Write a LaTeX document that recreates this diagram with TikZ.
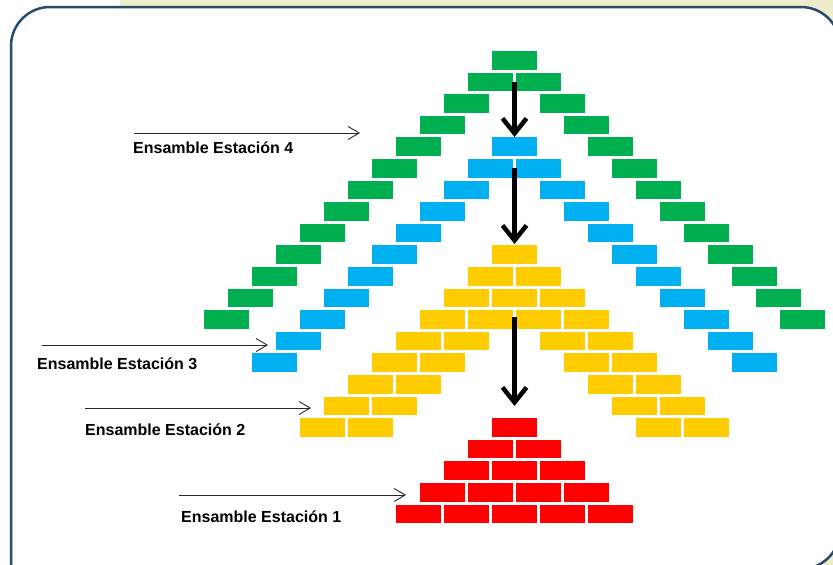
\documentclass[tikz,border=0pt]{standalone}
\usepackage{fontspec}
\setmainfont{Liberation Sans}
\usetikzlibrary{arrows.meta}
\definecolor{brickgreen}{HTML}{00B050}
\definecolor{brickblue}{HTML}{00B0F0}
\definecolor{brickyellow}{HTML}{FFCC00}
\definecolor{brickred}{HTML}{FF0000}
\definecolor{framecol}{HTML}{274B6C}
\definecolor{paper}{HTML}{EEEDCB}
\begin{document}
\begin{tikzpicture}[
        x = 1pt, y = -1pt,
        feed/.style = {line width = 0.9pt, draw = black!85,
            -{Straight Barb[length = 11pt, width = 13pt]}},
        drop/.style = {line width = 4.5pt, draw = black,
            -{Straight Barb[length = 15pt, width = 24pt]}},
        tag/.style = {anchor = base west, inner sep = 0pt,
            font = \fontsize{16}{19}\selectfont\bfseries}
    ]
    \clip (0,0) rectangle (833,565);
    % page and frame
    \fill[paper] (120,0) rectangle (833,565);
    \filldraw[
        fill = white,
        draw = framecol,
        line width = 2.5pt,
        rounded corners = 39pt
    ]
    (11,640) -- (11,7) -- (840,7) -- (840,569) -- (-50,569);

    % station 4 (green)
    \foreach \r in {0,...,12} {
        \fill[brickgreen] ({492-24*\r},{51+21.6*\r}) rectangle ++(45,18.6);
        \fill[brickgreen] ({492+24*\r},{51+21.6*\r}) rectangle ++(45,18.6);
    }
    % station 3 (blue)
    \foreach \r in {0,...,10} {
        \fill[brickblue] ({492-24*\r},{137.4+21.6*\r}) rectangle ++(45,18.6);
        \fill[brickblue] ({492+24*\r},{137.4+21.6*\r}) rectangle ++(45,18.6);
    }
    % station 2 (yellow)
    \fill[brickyellow] (492,245.4) rectangle ++(45,18.6);
    \foreach \r in {1,...,8} {
        \fill[brickyellow] ({492-24*\r},{245.4+21.6*\r}) rectangle ++(45,18.6);
        \fill[brickyellow] ({540-24*\r},{245.4+21.6*\r}) rectangle ++(45,18.6);
        \fill[brickyellow] ({444+24*\r},{245.4+21.6*\r}) rectangle ++(45,18.6);
        \fill[brickyellow] ({492+24*\r},{245.4+21.6*\r}) rectangle ++(45,18.6);
    }
    % station 1 (red)
    \foreach \r in {0,...,4} {
        \foreach \k in {0,...,\r} {
            \fill[brickred] ({492-24*\r+48*\k},{418.2+21.6*\r}) rectangle ++(45,18.6);
        }
    }

    % thick arrows between the stations
    \coordinate (g2) at (514.5,82);
    \coordinate (b1) at (514.5,137);
    \coordinate (b2) at (514.5,168);
    \coordinate (y1) at (514.5,244);
    \coordinate (y4) at (514.5,317);
    \coordinate (r1) at (514.5,406);
    \draw[drop] (g2) -- (b1);
    \draw[drop] (b2) -- (y1);
    \draw[drop] (y4) -- (r1);

    % labels
    \coordinate (in4) at (134,133);
    \coordinate (at4) at (360,133);
    \coordinate (in3) at (42,345);
    \coordinate (at3) at (268,345);
    \coordinate (in2) at (85,408);
    \coordinate (at2) at (311,408);
    \coordinate (in1) at (179,495);
    \coordinate (at1) at (406,495);
    \draw[feed] (in4) -- (at4);
    \draw[feed] (in3) -- (at3);
    \draw[feed] (in2) -- (at2);
    \draw[feed] (in1) -- (at1);
    \node[tag] (lab4) at (133,153) {Ensamble Estación 4};
    \node[tag] (lab3) at (37,369) {Ensamble Estación 3};
    \node[tag] (lab2) at (85,435) {Ensamble Estación 2};
    \node[tag] (lab1) at (181,522) {Ensamble Estación 1};
\end{tikzpicture}
\end{document}
